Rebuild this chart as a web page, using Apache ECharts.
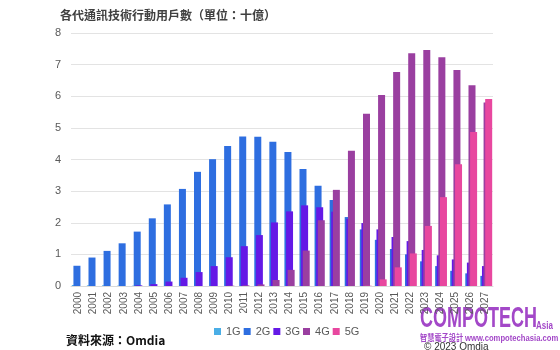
<!DOCTYPE html>
<html>
<head>
<meta charset="utf-8">
<script src="https://cdn.jsdelivr.net/npm/echarts@6/dist/echarts.min.js"></script>
<style>
  html, body { margin: 0; padding: 0; background: #fff; }
  #chart { width: 560px; height: 350px; }
</style>
</head>
<body>
<div id="chart"></div>
<script>
// Mobile subscriptions by network generation, billions
const years = ['2000','2001','2002','2003','2004','2005','2006','2007','2008','2009',
  '2010','2011','2012','2013','2014','2015','2016','2017','2018','2019',
  '2020','2021','2022','2023','2024','2025','2026','2027'];

const g1 = [0.03,0.02,0.02,0.01,0.01,0,0,0,0,0, 0,0,0,0,0,0,0,0,0,0, 0,0,0,0,0,0,0,0];
const g2 = [0.64,0.90,1.11,1.35,1.72,2.14,2.58,3.07,3.61,4.01,
  4.43,4.73,4.72,4.56,4.24,3.70,3.17,2.72,2.18,1.79,
  1.46,1.17,1.00,0.78,0.63,0.48,0.40,0.32];
const g3 = [0,0,0,0,0.02,0.06,0.14,0.26,0.44,0.63,
  0.91,1.26,1.61,2.01,2.36,2.55,2.49,2.35,2.12,1.99,
  1.79,1.55,1.42,1.14,0.97,0.84,0.74,0.63];
const g4 = [0,0,0,0,0,0,0,0,0,0,
  0.01,0.02,0.05,0.19,0.51,1.12,2.08,3.04,4.28,5.45,
  6.04,6.77,7.36,7.46,7.23,6.83,6.35,5.80];
const g5 = [0,0,0,0,0,0,0,0,0,0,
  0,0,0,0,0,0,0,0,0,0.01,
  0.21,0.59,1.03,1.90,2.81,3.85,4.87,5.91];

const names = ['1G','2G','3G','4G','5G'];
const values = [g1, g2, g3, g4, g5];
const colors = ['#4aaee6','#2e6ee0','#6419e6','#9a3fa0','#e8479f'];

const yTicks = [0, 1, 2, 3, 4, 5, 6, 7, 8];

const chart = echarts.init(document.getElementById('chart'), null, { renderer: 'canvas' });

const series = names.map((n, i) => ({
  name: n,
  type: 'bar',
  data: values[i],
  barWidth: 7,
  barGap: '-77%',
  itemStyle: { color: colors[i] }
}));

const brand = '#a348c8';

chart.setOption({
  animation: false,
  backgroundColor: '#ffffff',
  textStyle: { fontFamily: '"Noto Sans CJK TC", "Noto Sans", sans-serif' },
  color: colors,
  title: {
    text: '各代通訊技術行動用戶數（單位：十億）',
    left: 55,
    top: 4,
    textStyle: { fontSize: 12, fontWeight: 'bold', color: '#404040',
      fontFamily: '"Noto Sans CJK TC", sans-serif' }
  },
  legend: {
    data: names,
    left: 209,
    top: 321,
    itemWidth: 7,
    itemHeight: 7,
    itemGap: 3,
    icon: 'rect',
    textStyle: { fontSize: 11, color: '#595959',
      fontFamily: '"Liberation Sans", sans-serif' }
  },
  grid: { left: 71, right: 67, top: 33, bottom: 64 },
  xAxis: {
    type: 'category',
    data: years,
    axisTick: { show: false },
    axisLine: { show: true, lineStyle: { color: '#d9d9d9' } },
    axisLabel: { interval: 0, rotate: 90, fontSize: 10, color: '#595959', margin: 6,
      fontFamily: '"Liberation Sans", sans-serif' }
  },
  yAxis: {
    type: 'value',
    min: yTicks[0],
    max: yTicks[yTicks.length - 1],
    interval: 1,
    axisLine: { show: false },
    axisTick: { show: false },
    splitLine: { lineStyle: { color: '#e3e3e3' } },
    axisLabel: { fontSize: 11, color: '#595959', margin: 10,
      fontFamily: '"Liberation Sans", sans-serif' }
  },
  series: series,
  graphic: [
    {
      type: 'text', left: 66, top: 334,
      style: { text: '資料來源：Omdia', font: 'bold 12px "Noto Sans CJK TC", sans-serif', fill: '#111' }
    },
    {
      type: 'text', x: 420, y: 304, scaleX: 0.6,
      style: { text: 'COMPOTECH', font: 'bold 30px "Liberation Sans", sans-serif', fill: brand }
    },
    {
      type: 'text', x: 536, y: 321, scaleX: 0.8,
      style: { text: 'Asia', font: 'bold 10px "Liberation Sans", sans-serif', fill: brand }
    },
    {
      type: 'text', x: 420, y: 333, scaleX: 0.8,
      style: { text: '智慧電子設計', font: 'bold 9px "Noto Sans CJK TC", sans-serif', fill: brand }
    },
    {
      type: 'text', x: 465, y: 334, scaleX: 0.85,
      style: { text: 'www.compotechasia.com', font: 'bold 9px "Liberation Sans", sans-serif', fill: brand }
    },
    {
      type: 'text', x: 424, y: 342,
      style: { text: '© 2023 Omdia', font: '10px "Liberation Sans", sans-serif', fill: '#333' }
    }
  ]
});
</script>
</body>
</html>
